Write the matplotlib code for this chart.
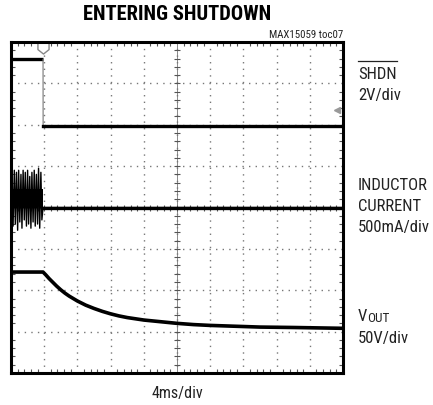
import numpy as np
import matplotlib.pyplot as plt
from matplotlib.ticker import MultipleLocator

# scope trace data, x in ms (4ms/div), y in divisions from bottom (0..8)
shdn_t = [0.0, 3.86, 3.87, 40.0]
shdn_v = [7.58, 7.58, 5.97, 5.97]

# inductor current: switching burst before shutdown, then flat at zero
il_t = [0.0, 0.12, 0.25, 0.40, 0.52, 0.66, 0.80, 0.92, 1.06, 1.20, 1.32,
        1.46, 1.60, 1.72, 1.86, 2.00, 2.12, 2.26, 2.40, 2.52, 2.66, 2.80,
        2.92, 3.06, 3.20, 3.32, 3.46, 3.60, 3.72, 3.86, 40.0]
il_v = [4.0, 4.95, 3.55, 4.9, 3.6, 4.85, 3.45, 4.9, 3.65, 4.8, 3.5,
        4.9, 3.7, 4.85, 3.55, 4.9, 3.6, 4.75, 3.5, 4.85, 3.65, 4.9,
        3.55, 4.8, 3.6, 4.95, 3.5, 4.85, 3.7, 4.0, 4.0]
il_core = [4.0, 4.45]

vout_t = [0.0, 3.86, 4.2, 4.6, 5.0, 5.5, 6.0, 6.5, 7.0, 8.0, 9.0, 10.0,
          11.0, 12.0, 13.0, 14.0, 16.0, 18.0, 20.0, 22.0, 24.0, 27.0,
          30.0, 34.0, 40.0]
vout_v = [2.44, 2.44, 2.37, 2.28, 2.20, 2.10, 2.01, 1.93, 1.86, 1.74,
          1.64, 1.56, 1.49, 1.43, 1.38, 1.34, 1.28, 1.24, 1.20, 1.17,
          1.15, 1.13, 1.11, 1.10, 1.08]

cond = ['Roboto Condensed', 'DejaVu Sans']

fig = plt.figure(figsize=(4.33, 4.06), dpi=100)
ax = fig.add_axes([11/433, 32/406, 332/433, 331/406])
ax.set_xlim(0, 40)
ax.set_ylim(0, 8)

# graticule
ax.xaxis.set_major_locator(MultipleLocator(4))
ax.yaxis.set_major_locator(MultipleLocator(1))
ax.xaxis.set_minor_locator(MultipleLocator(0.8))
ax.yaxis.set_minor_locator(MultipleLocator(0.2))
ax.grid(which='major', color='#777777', lw=1.0, linestyle=(0, (1, 3.75)))
ax.tick_params(which='both', direction='in', top=True, right=True,
               labelbottom=False, labelleft=False)
ax.tick_params(which='major', length=0)
ax.tick_params(which='minor', length=3, width=0.8, color='#555555')
for s in ax.spines.values():
    s.set_linewidth(2.2)

# center cross with small ticks
ax.axhline(4, color='#777777', lw=0.6)
ax.axvline(20, color='#777777', lw=0.6)
ax.plot(np.arange(0, 40.01, 0.8), [4] * 51, ls='none', marker='|',
        ms=4, mew=0.8, color='#555555')
ax.plot([20] * 41, np.arange(0, 8.01, 0.2), ls='none', marker='_',
        ms=4, mew=0.8, color='#555555')

# traces
ax.plot(shdn_t[:2], shdn_v[:2], color='black', lw=2.4, solid_capstyle='butt')
ax.plot(shdn_t[1:3], shdn_v[1:3], color='#777777', lw=0.8)
ax.plot(shdn_t[2:], shdn_v[2:], color='black', lw=2.4)
ax.fill_between([0, 3.86], il_core[0], il_core[1], color='black', lw=0)
ax.plot(il_t, il_v, color='black', lw=1.0)
ax.plot(il_t[-2:], il_v[-2:], color='black', lw=2.4)
ax.plot(vout_t, vout_v, color='black', lw=2.6)

# trigger and ground markers
trig = [(-1, 1), (1, 1), (1, -0.2), (0, -1), (-1, -0.2), (-1, 1)]
ax.plot([3.86], [7.85], marker=trig, ms=8, mfc='white', mec='#888888',
        mew=1.0, clip_on=False)
ax.plot([39.3], [6.35], marker='<', ms=5, mfc='#999999', mec='#999999')

# texts
kw = dict(family=cond, fontstretch='condensed', color='#222222')
fig.text(177/433, 1 - 14/406, 'ENTERING SHUTDOWN', ha='center', va='center',
         fontsize=14.8, fontweight='bold', family=cond,
         fontstretch='condensed')
fig.text(343/433, 1 - 35/406, 'MAX15059 toc07', ha='right', va='center',
         fontsize=7.8, **kw)
lx = 358/433
fs = 12
fig.text(lx, 1 - 75/406, 'SHDN', ha='left', va='center', fontsize=fs, **kw)
fig.add_artist(plt.Line2D([lx, lx + 39/433], [1 - 62/406] * 2,
                          color='#222222', lw=0.9))
fig.text(lx, 1 - 96/406, '2V/div', ha='left', va='center', fontsize=fs,
         **kw)
fig.text(lx, 1 - 186/406, 'INDUCTOR', ha='left', va='center', fontsize=fs,
         **kw)
fig.text(lx, 1 - 207/406, 'CURRENT', ha='left', va='center', fontsize=fs,
         **kw)
fig.text(lx, 1 - 228/406, '500mA/div', ha='left', va='center',
         fontsize=fs, **kw)
fig.text(lx, 1 - 317/406, 'V', ha='left', va='center', fontsize=fs, **kw)
fig.text(lx + 9/433, 1 - 318.5/406, 'OUT', ha='left', va='center',
         fontsize=9.5, **kw)
fig.text(lx, 1 - 339/406, '50V/div', ha='left', va='center', fontsize=fs,
         **kw)
fig.text(177/433, 1 - 394/406, '4ms/div', ha='center', va='center',
         fontsize=11.5, **kw)

fig.savefig('out.png', dpi=100)
